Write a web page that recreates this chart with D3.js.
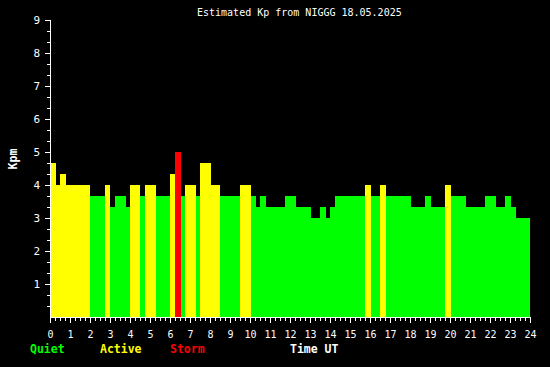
<!DOCTYPE html>
<html>
<head>
<meta charset="utf-8">
<script src="https://cdn.jsdelivr.net/npm/d3@7"></script>
<style>
  html, body { margin: 0; padding: 0; background: #000; }
  svg { display: block; }
  text { font-family: "DejaVu Sans Mono", monospace; fill: #fff; }
</style>
</head>
<body>
<script>
// start time of each bar (hours UT), bar lasts until the next start
const startHours = [0, 0.3, 0.5, 0.8, 2.0, 2.75, 3.0, 3.25, 3.8, 4.0, 4.5, 4.75, 5.3,
  6.0, 6.25, 6.55, 6.75, 7.3, 7.5, 8.05, 8.5, 9.5, 10.05, 10.3, 10.5, 10.8, 11.75,
  12.3, 13.05, 13.5, 13.8, 14.0, 14.25, 15.75, 16.05, 16.5, 16.8, 18.05, 18.75,
  19.05, 19.75, 20.05, 20.8, 21.75, 22.3, 22.75, 23.05, 23.3];
const endHour = 24;
// estimated Kp for each bar
const kpValues = [4.67, 4.0, 4.33, 4.0, 3.67, 4.0, 3.33, 3.67, 3.33, 4.0, 3.67, 4.0, 3.67,
  4.33, 5.0, 3.67, 4.0, 3.67, 4.67, 4.0, 3.67, 4.0, 3.67, 3.33, 3.67, 3.33, 3.67,
  3.33, 3.0, 3.33, 3.0, 3.33, 3.67, 4.0, 3.67, 4.0, 3.67, 3.33, 3.67,
  3.33, 4.0, 3.67, 3.33, 3.67, 3.33, 3.67, 3.33, 3.0];

const xTicks = d3.range(0, 25);        // hour labels 0..24
const yTicks = d3.range(1, 10);        // Kp labels 1..9
const legendItems = [
  { label: "Quiet", color: "#00ff00" },
  { label: "Active", color: "#ffff00" },
  { label: "Storm", color: "#ff0000" }
];
const titleText = "Estimated Kp from NIGGG 18.05.2025";

const width = 550, height = 367;
const svg = d3.select("body").append("svg")
  .attr("width", width)
  .attr("height", height)
  .style("background", "#000");

const x = d3.scaleLinear().domain([0, 24]).range([50, 530]);
const y = d3.scaleLinear().domain([0, 9]).range([317, 20]);

function kpColor(kp) {
  if (kp >= 5) return "#ff0000";
  if (kp >= 4) return "#ffff00";
  return "#00ff00";
}

// bars
const bars = startHours.map((h, i) => ({
  start: h,
  end: i < startHours.length - 1 ? startHours[i + 1] : endHour,
  kp: kpValues[i]
}));

svg.append("g")
  .attr("shape-rendering", "crispEdges")
  .selectAll("rect")
  .data(bars)
  .join("rect")
  .attr("x", d => Math.round(x(d.start)))
  .attr("width", d => Math.round(x(d.end)) - Math.round(x(d.start)))
  .attr("y", d => Math.round(y(d.kp)))
  .attr("height", d => 317 - Math.round(y(d.kp)))
  .attr("fill", d => kpColor(d.kp));

// x axis: hours with quarter-hour minor ticks
const xAxis = svg.append("g")
  .attr("shape-rendering", "crispEdges")
  .attr("stroke", "#fff");
xAxis.append("line")
  .attr("x1", 50).attr("x2", 531)
  .attr("y1", 317.5).attr("y2", 317.5);
xAxis.selectAll("line.minor")
  .data(d3.range(0, 24.01, 0.25))
  .join("line")
  .attr("class", "minor")
  .attr("x1", d => Math.round(x(d)) + 0.5)
  .attr("x2", d => Math.round(x(d)) + 0.5)
  .attr("y1", 317)
  .attr("y2", d => Number.isInteger(d) ? 323 : 321);

svg.append("g")
  .selectAll("text")
  .data(xTicks)
  .join("text")
  .attr("x", d => x(d) + 0.5)
  .attr("y", 338)
  .attr("text-anchor", "middle")
  .attr("font-size", "10px")
  .text(d => d);

// y axis: integer Kp with third-step minor ticks
const yAxis = svg.append("g")
  .attr("shape-rendering", "crispEdges")
  .attr("stroke", "#fff");
yAxis.append("line")
  .attr("x1", 50.5).attr("x2", 50.5)
  .attr("y1", 20).attr("y2", 323);
yAxis.selectAll("line.tick")
  .data(d3.range(1, 28))
  .join("line")
  .attr("class", "tick")
  .attr("x1", d => d % 3 === 0 ? 45 : 47)
  .attr("x2", 50)
  .attr("y1", d => Math.round(y(d / 3)) + 0.5)
  .attr("y2", d => Math.round(y(d / 3)) + 0.5);

svg.append("g")
  .selectAll("text")
  .data(yTicks)
  .join("text")
  .attr("x", 40)
  .attr("y", d => y(d) + 4)
  .attr("text-anchor", "end")
  .attr("font-size", "11px")
  .text(d => d);

// title
svg.append("text")
  .attr("x", 197)
  .attr("y", 16)
  .attr("font-size", "10px")
  .text(titleText);

// y label
svg.append("text")
  .attr("transform", "translate(17,159) rotate(-90)")
  .attr("text-anchor", "middle")
  .attr("font-size", "11.5px")
  .attr("font-weight", "bold")
  .text("Kpm");

// legend
svg.append("g")
  .selectAll("text")
  .data(legendItems)
  .join("text")
  .attr("x", (d, i) => 30 + i * 70)
  .attr("y", 353)
  .attr("font-size", "11.5px")
  .attr("font-weight", "bold")
  .style("fill", d => d.color)
  .text(d => d.label);

svg.append("text")
  .attr("x", 290)
  .attr("y", 353)
  .attr("font-size", "11.5px")
  .attr("font-weight", "bold")
  .text("Time UT");
</script>
</body>
</html>
